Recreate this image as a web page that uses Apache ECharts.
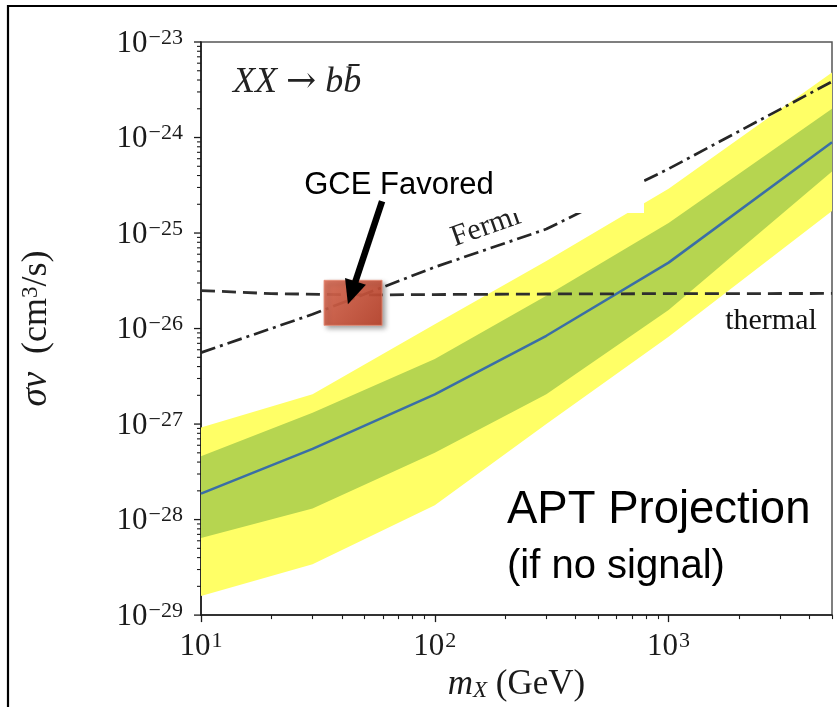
<!DOCTYPE html>
<html><head><meta charset="utf-8">
<script src="https://cdn.jsdelivr.net/npm/echarts@6/dist/echarts.min.js"></script>
<style>html,body{margin:0;padding:0;background:#fff}#c{width:837px;height:707px}</style>
</head><body><div id="c"></div>
<script>
// ---- data ----
const masses      = [10, 30, 100, 300, 1000, 5000];
const yellowUpper = [9.2e-28, 2.05e-27, 1.11e-26, 5.1e-26, 2.9e-25, 4.8e-24];
const greenUpper  = [4.6e-28, 1.31e-27, 4.8e-27, 2.2e-26, 1.27e-25, 2.0e-24];
const median      = [1.87e-28, 5.5e-28, 2.05e-27, 8.4e-27, 4.9e-26, 8.9e-25];
const greenLower  = [6.4e-29, 1.31e-28, 5.0e-28, 2.05e-27, 1.56e-26, 4.4e-25];
const yellowLower = [1.58e-29, 3.4e-29, 1.41e-28, 1.0e-27, 8.2e-27, 1.7e-25];
const fermiMass   = [10, 30, 100, 300, 1000, 5000];
const fermiLimit  = [5.6e-27, 1.41e-26, 4.4e-26, 1.10e-25, 4.7e-25, 3.85e-24];
const thermalMass = [10, 20, 50, 100, 300, 1000, 5000];
const thermalXsec = [2.5e-26, 2.32e-26, 2.25e-26, 2.27e-26, 2.3e-26, 2.32e-26, 2.33e-26];
const gceMass     = [33.6, 59.5];
const gceXsec     = [1.08e-26, 3.2e-26];
const arrowTail   = [59.5, 2.15e-25];
const arrowTip    = [42.5, 1.8e-26];
const xTicks      = [10, 100, 1000];
const yTicks      = [1e-29, 1e-28, 1e-27, 1e-26, 1e-25, 1e-24, 1e-23];

// minor log ticks (2..9 x 10^k)
const xMinor = [], yMinor = [];
for (let k = 1; k <= 3; k++) for (let j = 2; j <= 9; j++) { const v = j * Math.pow(10, k); if (v <= 5000) xMinor.push(v); }
for (let k = -29; k <= -24; k++) for (let j = 2; j <= 9; j++) yMinor.push(Number((j + 'e' + k)));

const SERIF = "'Liberation Serif','Times New Roman',serif";
const SANS = "'Liberation Sans',Arial,Helvetica,sans-serif";
const INK = '#1a1a1a';

function pairs(xs, ys) { return xs.map((x, i) => [x, ys[i]]); }

function band(upper, lower, color, z) {
  return {
    type: 'custom', coordinateSystem: 'cartesian2d', clip: true, silent: true, z: z,
    data: [[masses[0], upper[0]]],
    renderItem: function (params, api) {
      const pts = [];
      for (let i = 0; i < masses.length; i++) pts.push(api.coord([masses[i], upper[i]]));
      for (let i = masses.length - 1; i >= 0; i--) pts.push(api.coord([masses[i], lower[i]]));
      return { type: 'polygon', shape: { points: pts }, style: { fill: color } };
    }
  };
}

const chart = echarts.init(document.getElementById('c'), null, { renderer: 'canvas' });

const expLabel = function (v) {
  const e = Math.round(Math.log10(v));
  return '{b|10}{s|' + (e < 0 ? '\u2212' : '') + Math.abs(e) + '}';
};
const labelRich = {
  b: { fontFamily: SERIF, fontSize: 31, color: INK, fill: INK, verticalAlign: 'bottom', lineHeight: 32 },
  s: { fontFamily: SERIF, fontSize: 22, color: INK, fill: INK, verticalAlign: 'top', lineHeight: 21, padding: [0, 0, 0, 1] }
};

chart.setOption({
  animation: false,
  backgroundColor: '#fff',
  grid: { left: 201, right: 5, top: 42, bottom: 86, show: true, borderColor: '#555', borderWidth: 1.5, backgroundColor: 'transparent' },
  xAxis: [{
    type: 'log', logBase: 10, min: 10, max: 5000, position: 'bottom',
    axisLine: { show: true, lineStyle: { color: INK, width: 1.6 } },
    axisTick: { show: true, customValues: xTicks, length: 7, inside: false, lineStyle: { color: INK, width: 1.3 } },
    minorTick: { show: false },
    splitLine: { show: false },
    axisLabel: { customValues: xTicks, margin: 15, formatter: expLabel, rich: labelRich },
    name: '{i|m}{sub|X}{r| (GeV)}', nameLocation: 'middle', nameGap: 50,
    nameTextStyle: {
      rich: {
        i: { fontFamily: SERIF, fontStyle: 'italic', fontSize: 35, color: INK, verticalAlign: 'bottom', lineHeight: 34 },
        sub: { fontFamily: SERIF, fontStyle: 'italic', fontSize: 23, color: INK, verticalAlign: 'bottom', lineHeight: 30 },
        r: { fontFamily: SERIF, fontSize: 35, color: INK, verticalAlign: 'bottom', lineHeight: 34 }
      }
    }
  }, {
    type: 'log', logBase: 10, min: 10, max: 5000, position: 'bottom', gridIndex: 0,
    axisLine: { show: false },
    axisTick: { show: true, customValues: xMinor, length: 4, lineStyle: { color: INK, width: 1.1 } },
    axisLabel: { show: false }, splitLine: { show: false }
  }],
  yAxis: [{
    type: 'log', logBase: 10, min: 1e-29, max: 1e-23, position: 'left',
    axisLine: { show: true, lineStyle: { color: INK, width: 1.6 } },
    axisTick: { show: false, customValues: yTicks },
    minorTick: { show: false },
    splitLine: { show: false },
    axisLabel: { show: false, customValues: yTicks },
    name: '{i|\u03C3v}{r|  (cm}{sup|3}{r|/s)}', nameLocation: 'middle', nameRotate: 90, nameGap: 146,
    nameTextStyle: {
      rich: {
        i: { fontFamily: SERIF, fontStyle: 'italic', fontSize: 37, color: INK, verticalAlign: 'bottom', lineHeight: 36 },
        r: { fontFamily: SERIF, fontSize: 36, color: INK, verticalAlign: 'bottom', lineHeight: 36 },
        sup: { fontFamily: SERIF, fontSize: 23, color: INK, verticalAlign: 'top', lineHeight: 22 }
      }
    }
  }],
  series: [
    band(yellowUpper, yellowLower, '#ffff66', 1),
    band(greenUpper, greenLower, '#b6d550', 2),
    {
      type: 'line', data: pairs(masses, median), symbol: 'none', z: 3, silent: true,
      lineStyle: { color: '#3a6ea6', width: 2.5 }
    },
    {
      type: 'line', data: pairs(fermiMass, fermiLimit), symbol: 'none', z: 3, silent: true,
      lineStyle: { color: '#262626', width: 2.7, type: [15, 5, 3, 5] }
    },
    {
      type: 'line', data: pairs(thermalMass, thermalXsec), symbol: 'none', z: 3, silent: true,
      lineStyle: { color: '#2e2e2e', width: 2.8, type: [14, 7] }
    },
    {
      // y axis major ticks + labels, placed through the axis scale
      type: 'custom', coordinateSystem: 'cartesian2d', clip: false, silent: true, z: 5,
      data: yTicks.map(v => [10, v]),
      renderItem: function (params, api) {
        const v = api.value(1);
        const p = api.coord([10, v]);
        return {
          type: 'group',
          children: [
            { type: 'line', shape: { x1: p[0] - 7, y1: p[1], x2: p[0], y2: p[1] }, style: { stroke: INK, lineWidth: 1.3 } },
            { type: 'text', x: p[0] - 18, y: p[1] + 1,
              style: { text: expLabel(v), rich: labelRich, align: 'right', verticalAlign: 'middle', fill: INK } }
          ]
        };
      }
    },
    {
      // y axis minor ticks (log 2..9 positions)
      type: 'custom', coordinateSystem: 'cartesian2d', clip: false, silent: true, z: 5,
      data: yMinor.map(v => [10, v]),
      renderItem: function (params, api) {
        const p = api.coord([10, api.value(1)]);
        return { type: 'line', shape: { x1: p[0] - 4, y1: p[1], x2: p[0], y2: p[1] }, style: { stroke: INK, lineWidth: 1.1 } };
      }
    },
    {
      type: 'custom', coordinateSystem: 'cartesian2d', z: 4, silent: true, clip: false,
      data: [[gceMass[0], gceXsec[1], gceMass[1], gceXsec[0]]],
      renderItem: function (params, api) {
        const p1 = api.coord([api.value(0), api.value(1)]);
        const p2 = api.coord([api.value(2), api.value(3)]);
        return {
          type: 'rect',
          shape: { x: p1[0], y: p1[1], width: p2[0] - p1[0], height: p2[1] - p1[1] },
          style: {
            fill: new echarts.graphic.LinearGradient(0, 0, 1, 1, [
              { offset: 0, color: 'rgba(220,108,84,0.9)' },
              { offset: 1, color: 'rgba(186,66,42,0.9)' }
            ]),
            stroke: 'rgba(232,140,118,0.85)', lineWidth: 1,
            shadowBlur: 5, shadowColor: 'rgba(0,0,0,0.45)', shadowOffsetX: 3, shadowOffsetY: 3
          }
        };
      }
    },
    {
      type: 'custom', coordinateSystem: 'cartesian2d', z: 10, silent: true, clip: false,
      data: [[arrowTail[0], arrowTail[1], arrowTip[0], arrowTip[1]]],
      renderItem: function (params, api) {
        const a = api.coord([api.value(0), api.value(1)]);
        const b = api.coord([api.value(2), api.value(3)]);
        const dx = b[0] - a[0], dy = b[1] - a[1];
        const L = Math.sqrt(dx * dx + dy * dy), ux = dx / L, uy = dy / L;
        const hl = 24, hw = 11;
        const base = [b[0] - ux * hl, b[1] - uy * hl];
        return {
          type: 'group',
          children: [
            { type: 'line', shape: { x1: a[0], y1: a[1], x2: base[0] + ux * 2, y2: base[1] + uy * 2 }, style: { stroke: '#000', lineWidth: 6.5 } },
            { type: 'polygon', shape: { points: [b, [base[0] - uy * hw, base[1] + ux * hw], [base[0] + uy * hw, base[1] - ux * hw]] }, style: { fill: '#000' } }
          ]
        };
      }
    }
  ],
  graphic: [
    { type: 'rect', z: 1, silent: true, shape: { x: 8, y: 6, width: 860, height: 740 }, style: { fill: 'none', stroke: '#000', lineWidth: 2.2 } },
    { type: 'text', z: 5, silent: true, x: 486, y: 227, rotation: 0.34,
      style: { text: 'Fermi', font: "30px " + SERIF, fill: '#222', align: 'center', verticalAlign: 'middle', textAlign: 'center', textVerticalAlign: 'middle' } },
    { type: 'rect', z: 6, silent: true, shape: { x: 290, y: 158, width: 354, height: 55 }, style: { fill: '#fff' } },
    { type: 'text', z: 7, silent: true, x: 399, y: 185,
      style: { text: 'GCE Favored', font: "31px " + SANS, fill: '#000', align: 'center', verticalAlign: 'middle', textAlign: 'center', textVerticalAlign: 'middle' } },
    { type: 'text', z: 7, silent: true, x: 233, y: 83,
      style: {
        text: '{i|XX}{a|\u2192}{i|bb\u0304}', align: 'left', verticalAlign: 'middle',
        rich: {
          i: { font: "italic 36px " + SERIF, fill: '#222', verticalAlign: 'middle', lineHeight: 40 },
          a: { font: "36px 'DejaVu Serif',serif", fill: '#222', verticalAlign: 'middle', lineHeight: 40, padding: [0, 9, 0, 9] }
        }
      } },
    { type: 'text', z: 7, silent: true, x: 771, y: 321,
      style: { text: 'thermal', font: "30px " + SERIF, fill: '#111', align: 'center', verticalAlign: 'middle', textAlign: 'center', textVerticalAlign: 'middle' } },
    { type: 'text', z: 7, silent: true, x: 507, y: 510,
      style: { text: 'APT Projection', font: "45.5px " + SANS, fill: '#000', align: 'left', verticalAlign: 'middle', textAlign: 'left', textVerticalAlign: 'middle' } },
    { type: 'text', z: 7, silent: true, x: 507, y: 567,
      style: { text: '(if no signal)', font: "40px " + SANS, fill: '#000', align: 'left', verticalAlign: 'middle', textAlign: 'left', textVerticalAlign: 'middle' } }
  ]
});
</script>
</body></html>
